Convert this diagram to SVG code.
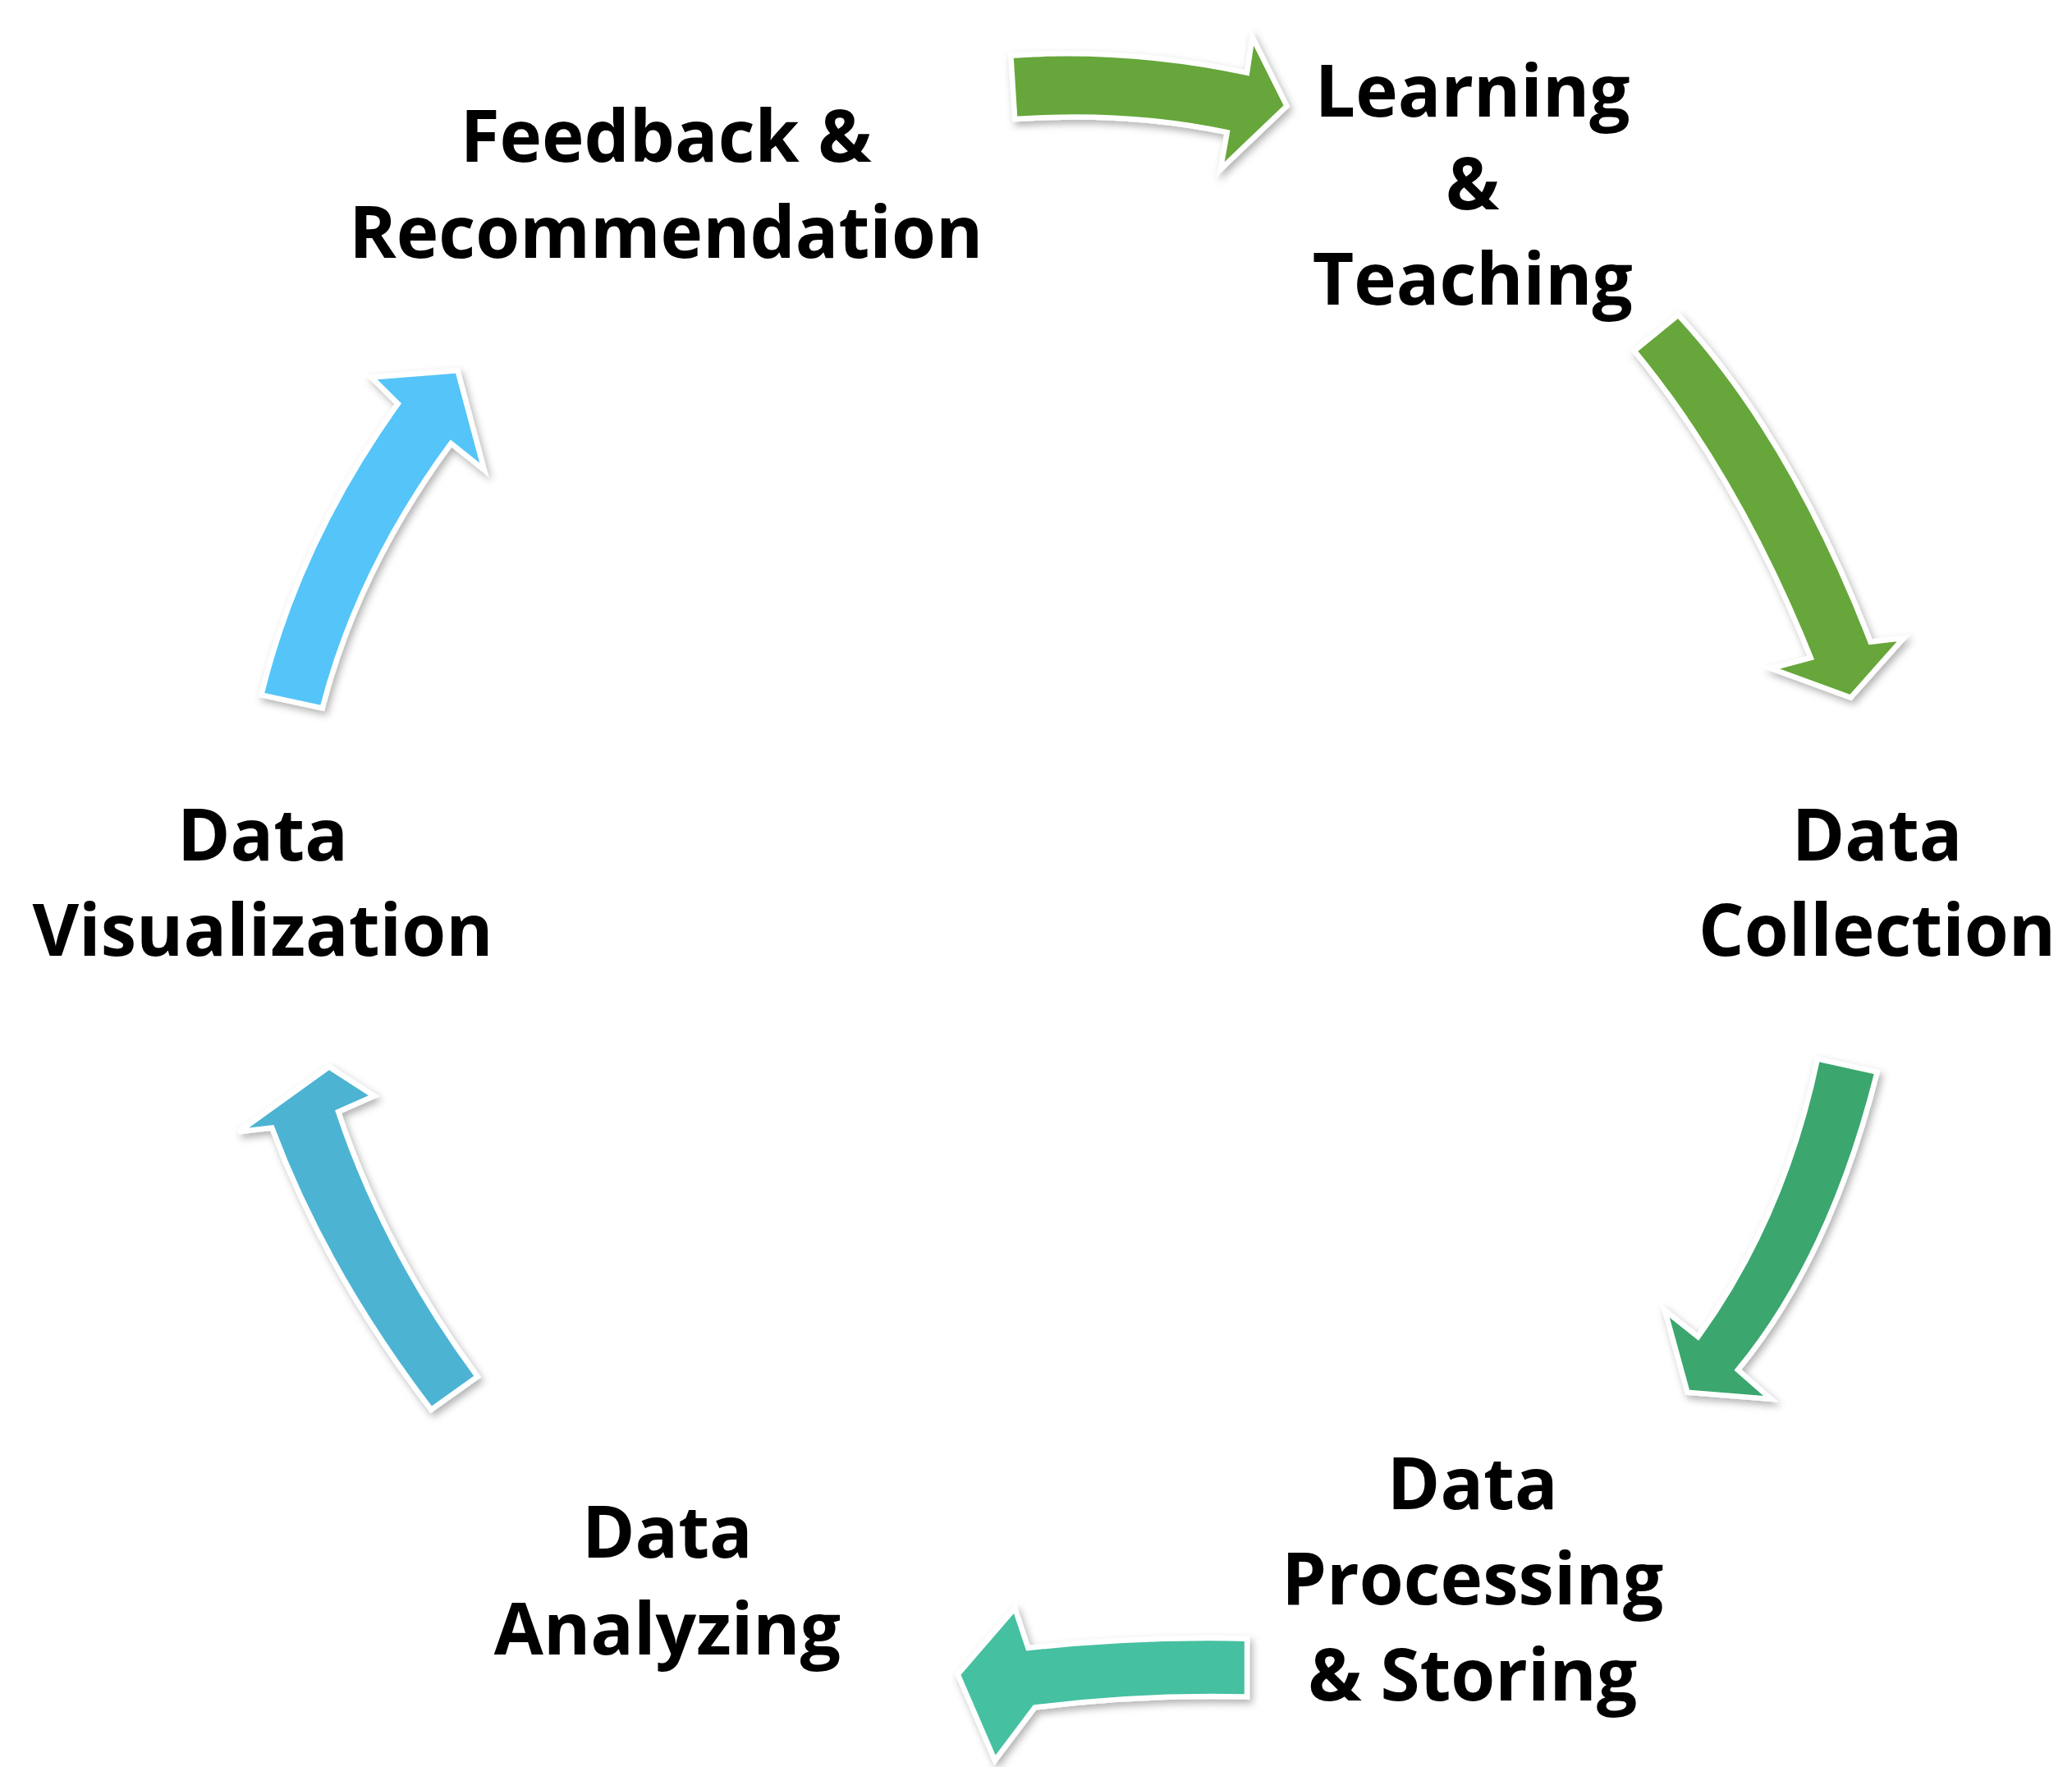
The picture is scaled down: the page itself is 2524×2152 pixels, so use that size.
<svg xmlns="http://www.w3.org/2000/svg" width="2524" height="2152" viewBox="0 0 2524 2152">
<defs>
<style>
.t{font-family:"Open Sans","Liberation Sans",sans-serif;font-weight:bold;font-size:54px;fill:#000;text-anchor:middle}
.a{stroke:#fff;stroke-width:4;stroke-linejoin:miter;filter:url(#sh)}
</style>
<filter id="sh" x="-20%" y="-20%" width="140%" height="140%"><feDropShadow dx="2" dy="3" stdDeviation="3" flood-color="#000" flood-opacity="0.3"/></filter>
</defs>
<rect width="2524" height="2152" fill="#fff"/>
<g transform="scale(1.616,1.612)">
<g id="connectors">
<path class="a" fill="#66A63A" d="M762,42 Q850,36 940,55 L944,28 L970,80 L920,128 L925,100 Q850,84 765,90 Z"/>
<path class="a" fill="#66A63A" d="M1265,238 Q1350,330 1410,485 L1435,482 L1395,527 L1335,505 L1365,497 Q1310,360 1232,265 Z"/>
<path class="a" fill="#3AA66E" d="M1370,800 L1415,810 Q1380,950 1310,1035 L1335,1057 L1272,1052 L1255,990 L1280,1010 Q1345,920 1370,800 Z"/>
<path class="a" fill="#45C0A0" d="M940,1238 Q860,1236 775,1245 L765,1215 L722,1265 L750,1330 L780,1290 Q860,1280 940,1282 Z"/>
<path class="a" fill="#4DB3D3" d="M325,1065 Q245,960 205,852 L180,855 L248,806 L282,828 L255,840 Q290,945 360,1040 Z"/>
<path class="a" fill="#55C4F8" d="M197,525 Q225,410 300,305 L280,285 L345,280 L365,355 L340,335 Q270,430 243,535 Z"/>
</g>
<g id="feedback"><text class="t" x="502" y="122">Feedback &amp;</text><text class="t" x="502" y="195">Recommendation</text></g>
<g id="learning"><text class="t" x="1110" y="88">Learning</text><text class="t" x="1110" y="158">&amp;</text><text class="t" x="1110" y="230">Teaching</text></g>
<g id="collection"><text class="t" x="1415" y="650">Data</text><text class="t" x="1415" y="722">Collection</text></g>
<g id="processing"><text class="t" x="1110" y="1140">Data</text><text class="t" x="1110" y="1212">Processing</text><text class="t" x="1110" y="1285">&amp; Storing</text></g>
<g id="analyzing"><text class="t" x="503" y="1177">Data</text><text class="t" x="503" y="1250">Analyzing</text></g>
<g id="visualization"><text class="t" x="198" y="650">Data</text><text class="t" x="198" y="722">Visualization</text></g>
</g>
</svg>
